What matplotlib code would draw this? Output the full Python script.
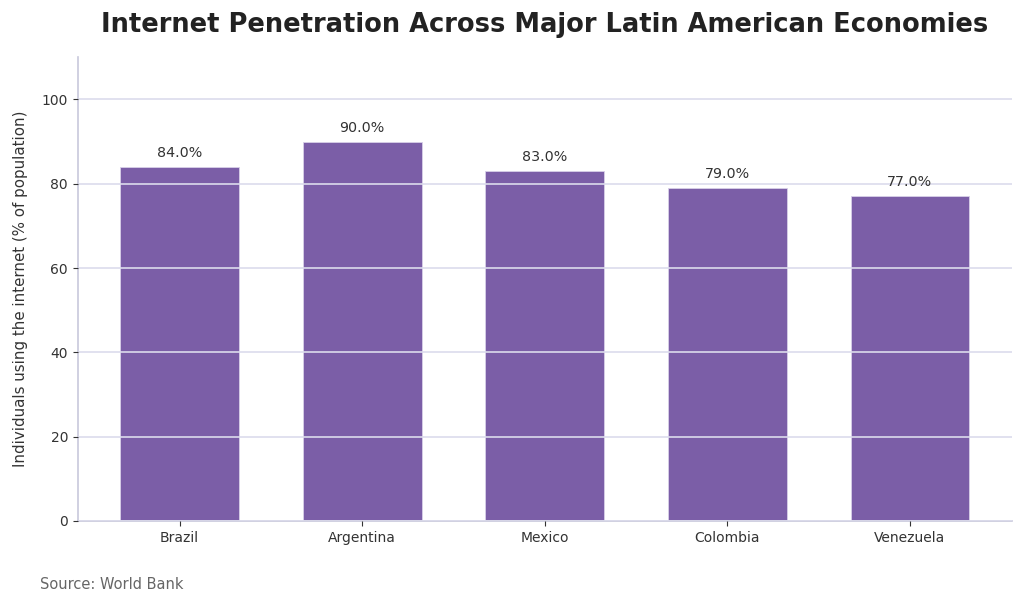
import numpy as np
import matplotlib.pyplot as plt

plt.rcParams['font.family'] = ['DejaVu Sans']

countries = ['Brazil', 'Argentina', 'Mexico', 'Colombia', 'Venezuela']
internet_pct = [84.0, 90.0, 83.0, 79.0, 77.0]

fig, ax = plt.subplots(figsize=(10.24, 6.03), dpi=100)
fig.subplots_adjust(left=0.076, right=0.988, top=0.905, bottom=0.136)

x = np.arange(len(countries))
bars = ax.bar(x, internet_pct, width=0.65, color='#7B5EA7', edgecolor='#d8d0e8', linewidth=0.6, zorder=2)

for b, v in zip(bars, internet_pct):
    ax.annotate(f'{v:.1f}%', (b.get_x() + b.get_width() / 2, v),
                xytext=(0, 5), textcoords='offset points',
                ha='center', va='bottom', fontsize=10.3, color='#333333', zorder=4)

ax.set_xticks(x)
ax.set_xticklabels(countries, fontsize=10, color='#333333')
ax.tick_params(axis='y', labelsize=10, labelcolor='#333333', color='#333333')
ax.tick_params(axis='x', color='#333333')
ax.set_ylim(0, 110)
ax.set_yticks([0, 20, 40, 60, 80, 100])
ax.set_ylabel('Individuals using the internet (% of population)', fontsize=10.8,
              color='#333333', labelpad=10)

ax.yaxis.grid(True, color='#dcdcec', linewidth=1.2, zorder=3)
ax.set_axisbelow(False)
for s in ['top', 'right']:
    ax.spines[s].set_visible(False)
for s in ['left', 'bottom']:
    ax.spines[s].set_color('#c8c8dc')
    ax.spines[s].set_linewidth(1.2)

fig.suptitle('Internet Penetration Across Major Latin American Economies',
             fontsize=18.5, fontweight='bold', color='#222222', x=0.532, y=0.98)
fig.text(0.039, 0.024, 'Source: World Bank', fontsize=10.5, color='#666666')

fig.savefig('out.png', dpi=100)
